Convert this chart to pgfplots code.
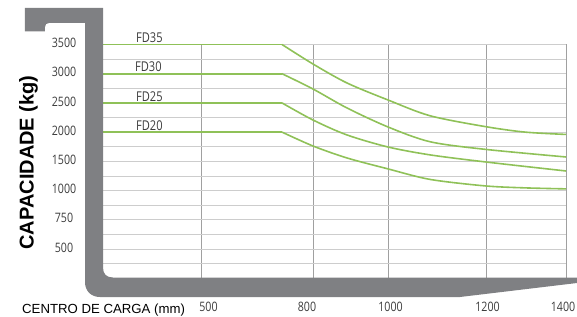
\documentclass[border=0pt]{standalone}
\usepackage{pgfplots}
\pgfplotsset{compat=1.18}
\usepackage{fontspec}
\setmainfont{Liberation Sans}
\newfontfamily\tickfont[FakeStretch=0.82]{Open Sans}
\definecolor{fgray}{RGB}{127,128,131}
\definecolor{lgreen}{RGB}{143,193,88}
\definecolor{hgrid}{RGB}{205,205,205}
\definecolor{vgrid}{RGB}{160,160,160}
\definecolor{tgray}{RGB}{60,60,60}
\begin{document}
\begin{tikzpicture}
\begin{axis}[
  scale only axis, width=464pt, height=233.6pt,
  at={(0pt,0pt)}, anchor=south west,
  xmin=102, xmax=566, ymin=-500, ymax=3500,
  clip=false,
  axis line style={draw=none},
  xtick={201,313,388.5,486,566}, xticklabels={},
  extra x ticks={208.5,307,390.5,487.5,566},
  extra x tick labels={500,800,1000,1200,1400\hspace*{6pt}},
  extra x tick style={grid=none},
  ytick={0,500,...,3500},
  yticklabels={500,750,1000,1500,2000,2500,3000,3500},
  minor ytick={-250,250,...,3250},
  xmajorgrids, ymajorgrids, yminorgrids,
  every axis x grid/.style={vgrid, line width=0.6pt},
  every axis y grid/.style={hgrid, line width=0.8pt},
  tick style={draw=none},
  /pgf/number format/assume math mode=true,
  ticklabel style={font=\tickfont\fontsize{13}{13}\selectfont, text=tgray},
  xticklabel style={anchor=center, yshift=-28.9pt},
  yticklabel style={anchor=center, xshift=-38pt, yshift=1.5pt},
]
% FD35
\addplot[lgreen, line width=1.6pt] coordinates {(102,3500)(282,3500)};
\addplot[lgreen, line width=1.6pt, smooth] coordinates {(282,3500)(313,3166)(347,2841)(388,2550)(430,2280)(485,2095)(525,2000)(566,1960)};
% FD30
\addplot[lgreen, line width=1.6pt] coordinates {(102,3000)(282,3000)};
\addplot[lgreen, line width=1.6pt, smooth] coordinates {(282,3000)(313,2738)(347,2413)(388,2088)(430,1835)(485,1705)(566,1574)};
% FD25
\addplot[lgreen, line width=1.6pt] coordinates {(102,2500)(282,2500)};
\addplot[lgreen, line width=1.6pt, smooth] coordinates {(282,2500)(313,2207)(347,1951)(388,1745)(430,1610)(485,1490)(566,1334)};
% FD20
\addplot[lgreen, line width=1.6pt] coordinates {(102,2000)(282,2000)};
\addplot[lgreen, line width=1.6pt, smooth] coordinates {(282,2000)(313,1762)(347,1557)(388,1370)(430,1190)(485,1079)(525,1045)(566,1028)};
\end{axis}
\begin{scope}[x=1pt, y=-1pt, shift={(-102pt,278.1pt)}]
\fill[fgray] (25,8) -- (103,8) -- (103,267.5) .. controls (103,274) and (106.5,277.5) .. (113,277.5)
  -- (577,277.5) -- (577,283) -- (460,297) -- (100,297) .. controls (91,297) and (85,291) .. (85,282)
  -- (85,23) -- (49,23) .. controls (46.5,23) and (45,24.5) .. (45,27) -- (45,31.5) -- (25,31.5) -- cycle;
\node[font=\bfseries\fontsize{20}{20}\selectfont, rotate=90] at (28.5,162.5) {CAPACIDADE (kg)};
\node[font=\fontsize{13.2}{13.2}\selectfont, anchor=base west, inner sep=0] at (22,313) {CENTRO DE CARGA (mm)};
\begin{scope}[every node/.style={font=\tickfont\fontsize{13.5}{13.5}\selectfont, text=tgray, anchor=base west, inner sep=0}]
\node at (136,42.5) {FD35};
\node at (135,72) {FD30};
\node at (136,101.5) {FD25};
\node at (136,130.5) {FD20};
\end{scope}
\pgfresetboundingbox
\path (0,0) rectangle (577,316);
\end{scope}
\end{tikzpicture}
\end{document}
